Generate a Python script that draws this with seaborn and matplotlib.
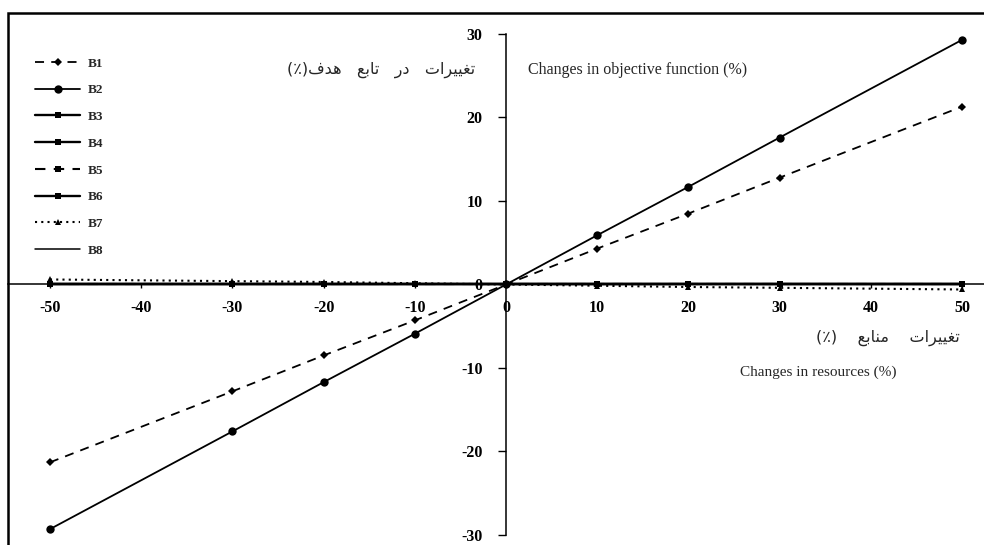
import numpy as np
import pandas as pd
import matplotlib
matplotlib.use('Agg')
import matplotlib.pyplot as plt
from matplotlib.patches import Rectangle
import seaborn as sns

# resource change (%) on x, objective change (%) on y
changes = [-50, -30, -20, -10, 0, 10, 20, 30, 50]
B1 = [-21.3, -12.8, -8.5, -4.3, 0, 4.3, 8.5, 12.8, 21.3]
B2 = [-29.3, -17.6, -11.7, -5.9, 0, 5.9, 11.7, 17.6, 29.3]
B3 = [0, 0, 0, 0, 0, 0, 0, 0, 0]
B4 = [0, 0, 0, 0, 0, 0, 0, 0, 0]
B5 = [0, 0, 0, 0, 0, 0, 0, 0, 0]
B6 = [0, 0, 0, 0, 0, 0, 0, 0, 0]
B7 = [0.6, 0.4, 0.3, 0.15, 0, -0.15, -0.3, -0.4, -0.6]
B8 = [0, 0, 0, 0, 0, 0, 0, 0, 0]
series_names = ['B1', 'B2', 'B3', 'B4', 'B5', 'B6', 'B7', 'B8']
xticks = [-50, -40, -30, -20, -10, 0, 10, 20, 30, 40, 50]
yticks = [-30, -20, -10, 0, 10, 20, 30]

# Persian labels, pre-shaped into visual order (presentation forms)
taghyirat = '\uFE95\uFE8D\uFEAE\uFBFF\uFBFF\uFED0\uFE97'
dar = '\uFEAD\uFEA9'
tabe = '\uFECA\uFE91\uFE8E\uFE97'
hadaf = '\uFED1\uFEAA\uFEEB'
manabe = '\uFECA\uFE91\uFE8E\uFEE8\uFEE3'
ylab_fa = '(\u066A)' + hadaf + '   ' + tabe + '   ' + dar + '   ' + taghyirat
xlab_fa = '(\u066A)    ' + manabe + '    ' + taghyirat

df = pd.DataFrame({'change': changes * 8,
                   'value': B1 + B2 + B3 + B4 + B5 + B6 + B7 + B8,
                   'series': np.repeat(series_names, len(changes))})

styles = {
    'B1': dict(ls=(0, (5, 4)), marker='D', ms=4, lw=1.3),
    'B2': dict(ls='-', marker='o', ms=6, lw=1.3),
    'B3': dict(ls='-', marker='s', ms=5, lw=1.7),
    'B4': dict(ls='-', marker='s', ms=5, lw=1.7),
    'B5': dict(ls=(0, (5, 4)), marker='s', ms=5, lw=1.5),
    'B6': dict(ls='-', marker='s', ms=5, lw=1.7),
    'B7': dict(ls=(0, (1, 2)), marker='^', ms=5, lw=1.5),
    'B8': dict(ls='-', marker='_', ms=3, lw=1.1),
}

sns.set_theme(style='ticks')
plt.rcParams['font.family'] = ['Liberation Serif', 'DejaVu Sans']

fig = plt.figure(figsize=(9.84, 5.45), dpi=100)
ax = fig.add_axes([8 / 984, 0, 1 - 8 / 984, 1])
ax.patch.set_alpha(0)

for name in series_names:
    st = styles[name]
    sns.lineplot(data=df[df['series'] == name], x='change', y='value', ax=ax,
                 color='black', linestyle=st['ls'], marker=st['marker'],
                 markersize=st['ms'], linewidth=st['lw'], markeredgewidth=0,
                 label=name)

ax.set_xlim(-54.6, 52.4)
ax.set_ylim(-31.2, 34.07)
ax.spines['left'].set_position(('data', 0))
ax.spines['bottom'].set_position(('data', 0))
ax.spines['left'].set_bounds(-30, 30)
ax.spines['top'].set_visible(False)
ax.spines['right'].set_visible(False)
for sp in ('left', 'bottom'):
    ax.spines[sp].set_color('black')
    ax.spines[sp].set_linewidth(1.1)

ax.set_xticks(xticks)
ax.set_yticks(yticks)
ax.set_xticklabels([str(t) for t in xticks], fontweight='bold', fontsize=11.5)
ax.set_yticklabels([str(t) for t in yticks], fontweight='bold', fontsize=11.5)
ax.tick_params(axis='x', direction='out', length=3, pad=8, colors='black', width=1)
ax.tick_params(axis='y', direction='out', length=6, pad=11, colors='black', width=1)
ax.set_xlabel('')
ax.set_ylabel('')

# axis titles (Persian + English)
fig.text(475 / 984, 1 - 70 / 545, ylab_fa, ha='right', va='center',
         fontsize=11.5, family=['DejaVu Sans'])
fig.text(528 / 984, 1 - 70 / 545, 'Changes in objective function (%)',
         ha='left', va='center', fontsize=11.5)
fig.text(960 / 984, 1 - 338 / 545, xlab_fa, ha='right', va='center',
         fontsize=11.5, family=['DejaVu Sans'])
fig.text(740 / 984, 1 - 372 / 545, 'Changes in resources (%)',
         ha='left', va='center', fontsize=11)

leg = ax.legend(loc='upper left', bbox_to_anchor=(30 / 984, 1 - 52 / 545),
                bbox_transform=fig.transFigure, frameon=False,
                borderaxespad=0, handlelength=3.4, handletextpad=0.55,
                labelspacing=1.1, prop=dict(family='Liberation Serif',
                                            weight='bold', size=9.5))

# outer frame of the original figure
fig.patches.append(Rectangle((8 / 984, -0.1), 1.2, 0.1 + 1 - 13 / 545,
                             transform=fig.transFigure, fill=False,
                             edgecolor='black', linewidth=1.8))

fig.savefig('out.png', dpi=100, facecolor='white')
